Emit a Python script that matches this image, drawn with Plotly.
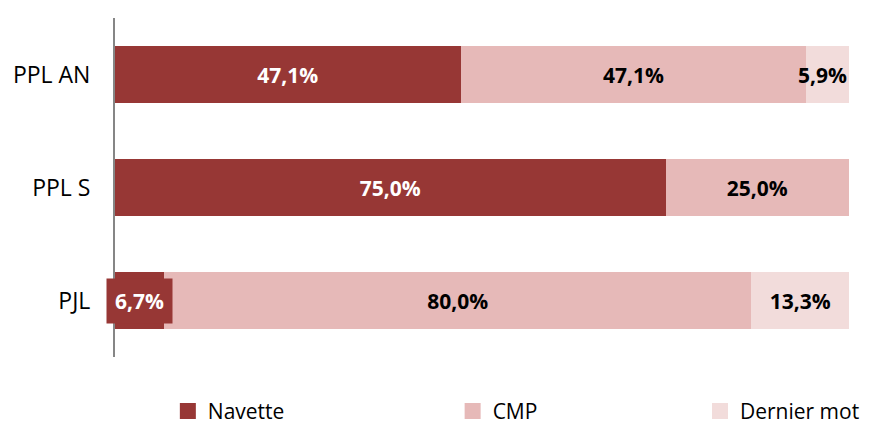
"""Répartition des textes par mode d'adoption — barres horizontales empilées."""

import plotly.graph_objects as go

categories = ["PPL AN", "PPL S", "PJL"]
navette = [47.1, 75.0, 6.7]
cmp = [47.1, 25.0, 80.0]
dernier_mot = [5.9, 0.0, 13.3]

series = [
    ("Navette", navette, "#973735", "white", "legend"),
    ("CMP", cmp, "#E6B9B8", "black", "legend2"),
    ("Dernier mot", dernier_mot, "#F2DCDB", "black", "legend3"),
]
FONT = "Open Sans, Calibri, sans-serif"
LABEL_SIZE = 21


def fmt(v):
    return f"{v:.1f}%".replace(".", ",")


fig = go.Figure()
for name, values, color, txt_color, leg in series:
    # segments trop étroits : étiquette posée en annotation
    labels = [fmt(v) if v >= 10 else "" for v in values]
    fig.add_trace(go.Bar(
        x=values,
        y=categories,
        name=name,
        orientation="h",
        marker=dict(color=color, line=dict(width=0)),
        text=labels,
        texttemplate="%{text}",
        textposition="inside",
        insidetextanchor="middle",
        textangle=0,
        insidetextfont=dict(family=FONT, size=LABEL_SIZE, color=txt_color, weight="bold"),
        showlegend=False,
        hovertemplate="<b>%{y}</b><br>" + name + ": %{x:.1f}%<extra></extra>",
    ))
    # entrée de légende avec un carré plus grand que celui des barres
    fig.add_trace(go.Scatter(
        x=[None], y=[None], mode="markers", name=name, legend=leg,
        marker=dict(symbol="square", size=16, color=color),
    ))

# Navette qui déborde (PJL) : étiquette sur fond rouge
for cat, v in zip(categories, navette):
    if 0 < v < 10:
        fig.add_annotation(
            x=v / 2, y=cat, text=f"<b>{fmt(v)}</b>", showarrow=False,
            font=dict(family=FONT, size=LABEL_SIZE, color="white"),
            bgcolor="#973735", borderpad=8,
        )

# Dernier mot étroit : étiquette calée sur la fin de la barre
for cat, a, b, v in zip(categories, navette, cmp, dernier_mot):
    if 0 < v < 10:
        fig.add_annotation(
            x=min(a + b + v, 100), y=cat, xanchor="right", text=f"<b>{fmt(v)}</b>",
            showarrow=False,
            font=dict(family=FONT, size=LABEL_SIZE, color="black"),
        )

legend_style = dict(
    orientation="h", yanchor="middle", y=-0.16, xanchor="left",
    font=dict(family=FONT, size=21, color="black"),
    bgcolor="rgba(0,0,0,0)", itemsizing="trace",
)
fig.update_layout(
    barmode="stack",
    bargap=0.487,
    width=873,
    height=427,
    margin=dict(l=115, r=24, t=18, b=70, autoexpand=False),
    plot_bgcolor="white",
    paper_bgcolor="white",
    font=dict(family=FONT, size=21, color="black"),
    showlegend=True,
    legend=dict(x=0.072, **legend_style),
    legend2=dict(x=0.46, **legend_style),
    legend3=dict(x=0.797, **legend_style),
    xaxis=dict(range=[0, 100], visible=False, fixedrange=True),
    yaxis=dict(
        autorange="reversed",
        showline=True, linecolor="#868686", linewidth=2,
        ticks="", showgrid=False, ticklabelstandoff=18,
        tickfont=dict(family=FONT, size=23, color="black"),
    ),
)

fig.write_html(
    "out.html",
    config={"displayModeBar": False},
    post_script="document.body.style.margin = '0';",
)
